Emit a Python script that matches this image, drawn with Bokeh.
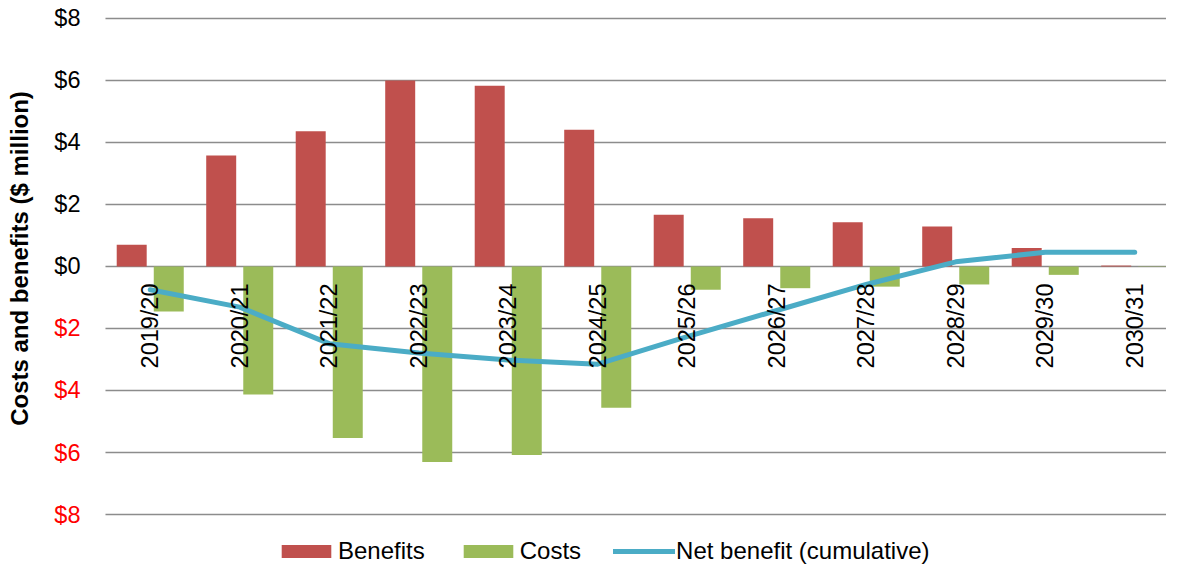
import math
from bokeh.plotting import figure
from bokeh.models import Range1d, Legend, LegendItem, ColumnDataSource
from bokeh.transform import dodge
from bokeh.core.properties import value
from bokeh.embed import file_html
from bokeh.resources import INLINE

# ---------------- data ----------------
years = ["2019/20", "2020/21", "2021/22", "2022/23", "2023/24", "2024/25",
         "2025/26", "2026/27", "2027/28", "2028/29", "2029/30", "2030/31"]
benefits = [0.70, 3.58, 4.36, 6.00, 5.83, 4.41, 1.67, 1.56, 1.43, 1.29, 0.60, 0.03]
costs = [-1.45, -4.13, -5.53, -6.31, -6.08, -4.56, -0.75, -0.70, -0.65, -0.58, -0.27, -0.01]
net_cumulative = [-0.75, -1.31, -2.49, -2.79, -3.02, -3.15, -2.26, -1.42, -0.58, 0.15, 0.46, 0.46]

y_ticks = [8, 6, 4, 2, 0, -2, -4, -6, -8]
y_tick_labels = ["$8", "$6", "$4", "$2", "$0", "$2", "$4", "$6", "$8"]

series_names = ["Benefits", "Costs", "Net benefit (cumulative)"]
y_title = "Costs and benefits ($ million)"

# ---------------- styling ----------------
FONT = "Liberation Sans"
FS = "23.5px"
C_BEN = "#C0504D"
C_COST = "#9BBB59"
C_NET = "#4BACC6"
C_GRID = "#8c8c8c"

n = len(years)
# category centres on a numeric scale (category i occupies [i, i+1])
xc = [i + 0.5 for i in range(n)]
src = ColumnDataSource(dict(x=xc, year=years, benefits=benefits, costs=costs,
                            net=net_cumulative))
tick_src = ColumnDataSource(dict(
    y=y_ticks, label=y_tick_labels,
    color=["red" if t < 0 else "black" for t in y_ticks]))

p = figure(width=1166, height=565,
           x_range=Range1d(-1.173, 11.855),
           y_range=Range1d(-9.645, 8.58),
           output_backend="svg", toolbar_location=None,
           x_axis_location=None, y_axis_location=None,
           min_border=0)
p.outline_line_color = None
p.background_fill_color = "white"
p.border_fill_color = "white"
p.xgrid.visible = False
p.ygrid.visible = False

# horizontal gridlines spanning the category area only
p.segment(x0=0, x1=n, y0="y", y1="y", source=tick_src,
          line_color=C_GRID, line_width=1.6)

# y tick labels (negatives in red)
p.text(x=0, y="y", text="label", source=tick_src, x_offset=-25,
       text_align="right", text_baseline="middle", text_color="color",
       text_font=value(FONT), text_font_size=value(FS))

# y axis title
p.text(x=0, y=0, text=[y_title], x_offset=-86, y_offset=-8, angle=math.pi / 2,
       text_align="center", text_baseline="middle", text_color="black",
       text_font=value(FONT), text_font_size=value("24px"),
       text_font_style="bold")

BW = 0.335
OFF = 0.207
rb = p.vbar(x=dodge("x", -OFF), top="benefits", width=BW,
            source=src, fill_color=C_BEN, line_color=None)
rc = p.vbar(x=dodge("x", OFF), top="costs", width=BW,
            source=src, fill_color=C_COST, line_color=None)
rn = p.line(x="x", y="net", source=src, line_color=C_NET, line_width=5,
            line_cap="round", line_join="round")

# category labels next to the zero line
p.text(x="x", y=0, text="year", source=src, angle=math.pi / 2,
       text_align="right", text_baseline="middle", y_offset=17,
       text_font=value(FONT), text_font_size=value(FS), text_color="black")

legend = Legend(items=[LegendItem(label=series_names[0], renderers=[rb]),
                       LegendItem(label=series_names[1], renderers=[rc]),
                       LegendItem(label=series_names[2], renderers=[rn])],
                location=(275, 0), orientation="horizontal",
                glyph_width=62, glyph_height=16, label_standoff=1, spacing=32,
                padding=0, margin=0, border_line_color=None,
                background_fill_alpha=0,
                label_text_font=FONT, label_text_font_size="24px",
                label_text_color="black")
p.add_layout(legend)

open("out.html", "w").write(file_html(p, INLINE))
